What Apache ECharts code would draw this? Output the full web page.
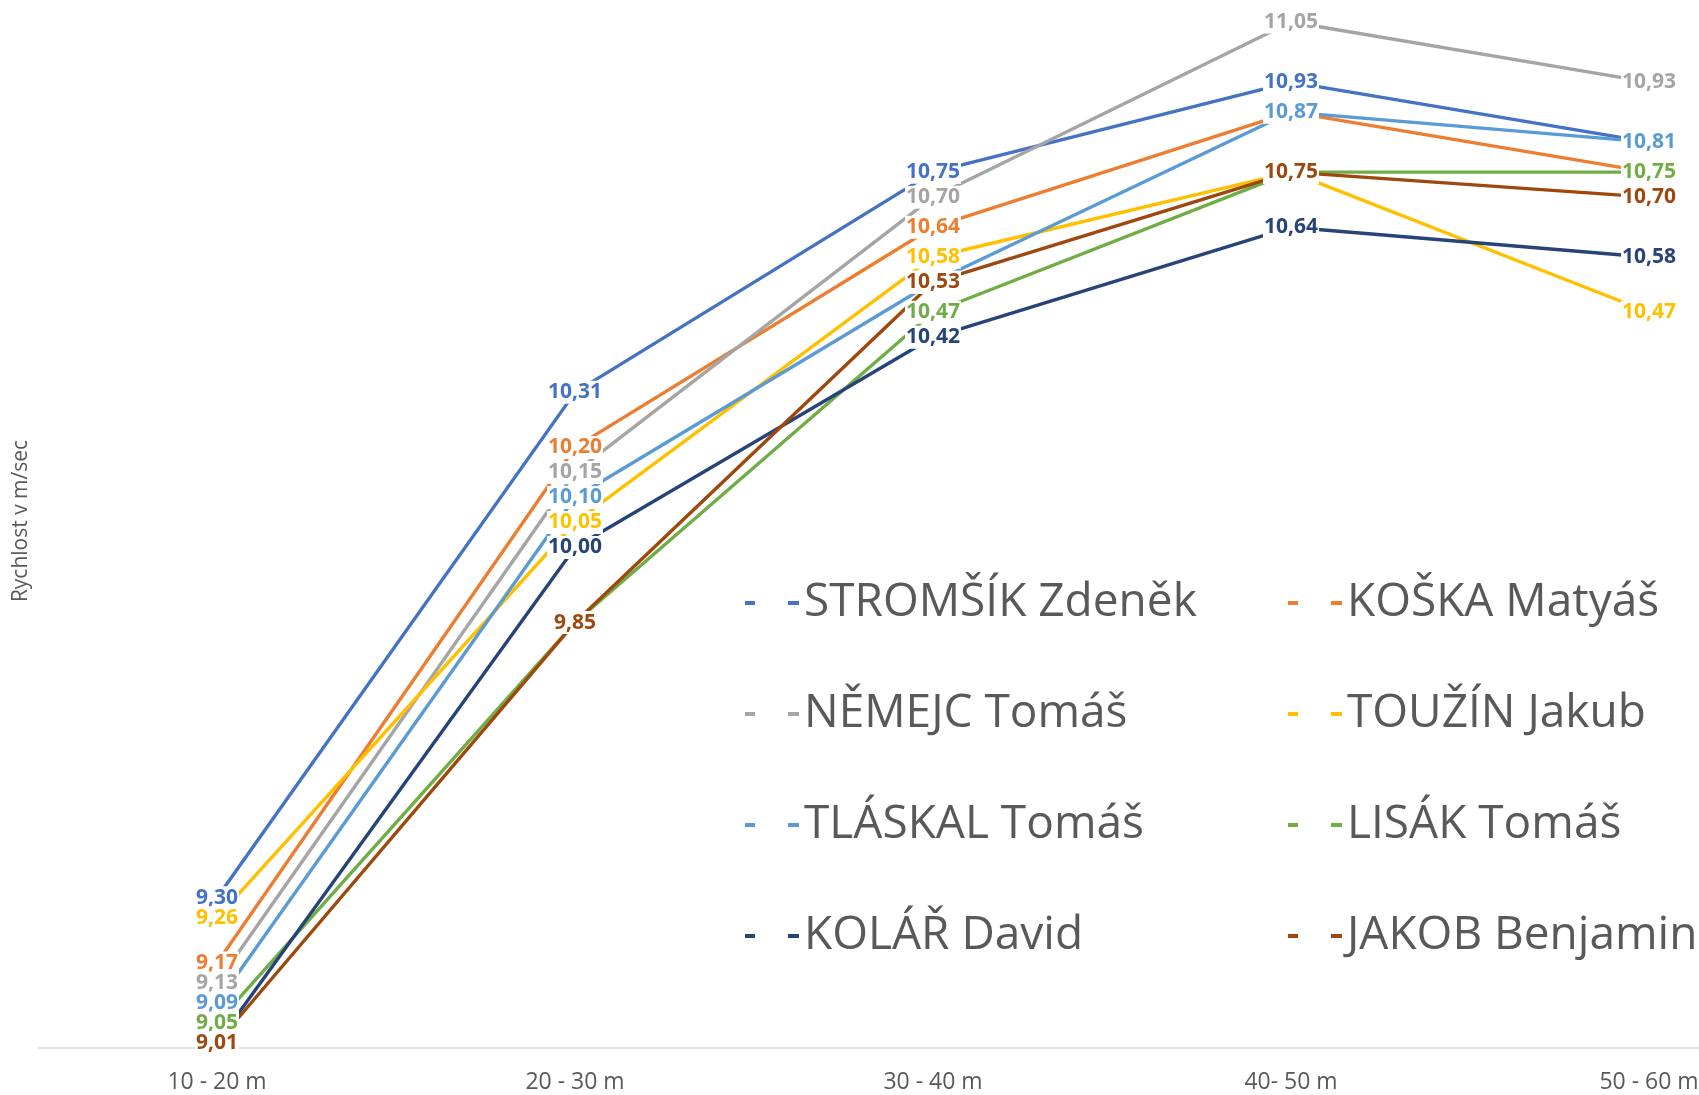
<!DOCTYPE html>
<html>
<head>
<meta charset="utf-8">
<script src="https://cdn.jsdelivr.net/npm/echarts@6/dist/echarts.min.js"></script>
<style>
html,body{margin:0;padding:0;background:#fff;}
#chart{width:1699px;height:1095px;}
</style>
</head>
<body>
<div id="chart"></div>
<script>
const categories = ['10 - 20 m', '20 - 30 m', '30 - 40 m', '40- 50 m', '50 - 60 m'];
const names = ['STROMŠÍK Zdeněk', 'KOŠKA Matyáš', 'NĚMEJC Tomáš', 'TOUŽÍN Jakub', 'TLÁSKAL Tomáš', 'LISÁK Tomáš', 'KOLÁŘ David', 'JAKOB Benjamin'];
const colors = ['#4472C4', '#ED7D31', '#A5A5A5', '#FFC000', '#5B9BD5', '#70AD47', '#264478', '#9E480E'];
const stromsik = [9.30, 10.31, 10.75, 10.93, 10.81];
const koska    = [9.17, 10.20, 10.64, 10.87, 10.75];
const nemejc   = [9.13, 10.15, 10.70, 11.05, 10.93];
const touzin   = [9.26, 10.05, 10.58, 10.75, 10.47];
const tlaskal  = [9.09, 10.10, 10.53, 10.87, 10.81];
const lisak    = [9.05, 9.85, 10.47, 10.75, 10.75];
const kolar    = [9.01, 10.00, 10.42, 10.64, 10.58];
const jakob    = [9.01, 9.85, 10.53, 10.75, 10.70];
const seriesValues = [stromsik, koska, nemejc, touzin, tlaskal, lisak, kolar, jakob];
const yTitle = 'Rychlost v m/sec';

const FONT = 'Open Sans';
const chart = echarts.init(document.getElementById('chart'), null, {renderer: 'canvas'});

const series = names.map((n, i) => ({
  name: n,
  type: 'line',
  data: seriesValues[i],
  symbol: 'circle',
  symbolSize: 0,
  showSymbol: true,
  color: colors[i],
  lineStyle: {width: 3.4, color: colors[i], cap: 'round', join: 'round'},
  itemStyle: {color: colors[i]},
  label: {
    show: true,
    position: 'inside',
    formatter: p => p.value.toFixed(2).replace('.', ','),
    fontFamily: FONT,
    fontWeight: 'bold',
    fontSize: 21,
    lineHeight: 23,
    color: colors[i],
    backgroundColor: '#ffffff',
    padding: [0, 1]
  },
  emphasis: {disabled: true},
  animation: false
}));

const legendIcon = 'path://M0,0H10V4H0Z M43,0H54V4H43Z';
const legendCommon = {
  orient: 'vertical',
  top: 570,
  icon: legendIcon,
  itemWidth: 54,
  itemHeight: 4,
  itemGap: 55,
  textStyle: {fontFamily: FONT, fontSize: 46, color: '#595959', lineHeight: 56},
  selectedMode: false
};

chart.setOption({
  animation: false,
  backgroundColor: '#ffffff',
  grid: {left: 38, right: -129, top: 22, bottom: 47, containLabel: false, outerBoundsMode: 'none'},
  legend: [
    Object.assign({}, legendCommon, {left: 740, data: [names[0], names[2], names[4], names[6]]}),
    Object.assign({}, legendCommon, {left: 1283, data: [names[1], names[3], names[5], names[7]]})
  ],
  xAxis: {
    type: 'category',
    data: categories,
    boundaryGap: true,
    axisLine: {show: true, lineStyle: {color: '#D9D9D9', width: 1.5}},
    axisTick: {show: false},
    axisLabel: {fontFamily: FONT, fontSize: 23, color: '#595959', margin: 23}
  },
  yAxis: {
    type: 'value',
    min: 9,
    max: 11.05,
    axisLine: {show: false},
    axisTick: {show: false},
    axisLabel: {show: false},
    splitLine: {show: false}
  },
  graphic: [{
    type: 'text',
    x: 21,
    y: 521,
    rotation: Math.PI / 2,
    style: {text: yTitle, fill: '#595959', font: '21px "Open Sans"', textAlign: 'center', textVerticalAlign: 'middle'}
  }],
  series: series
});
</script>
</body>
</html>
